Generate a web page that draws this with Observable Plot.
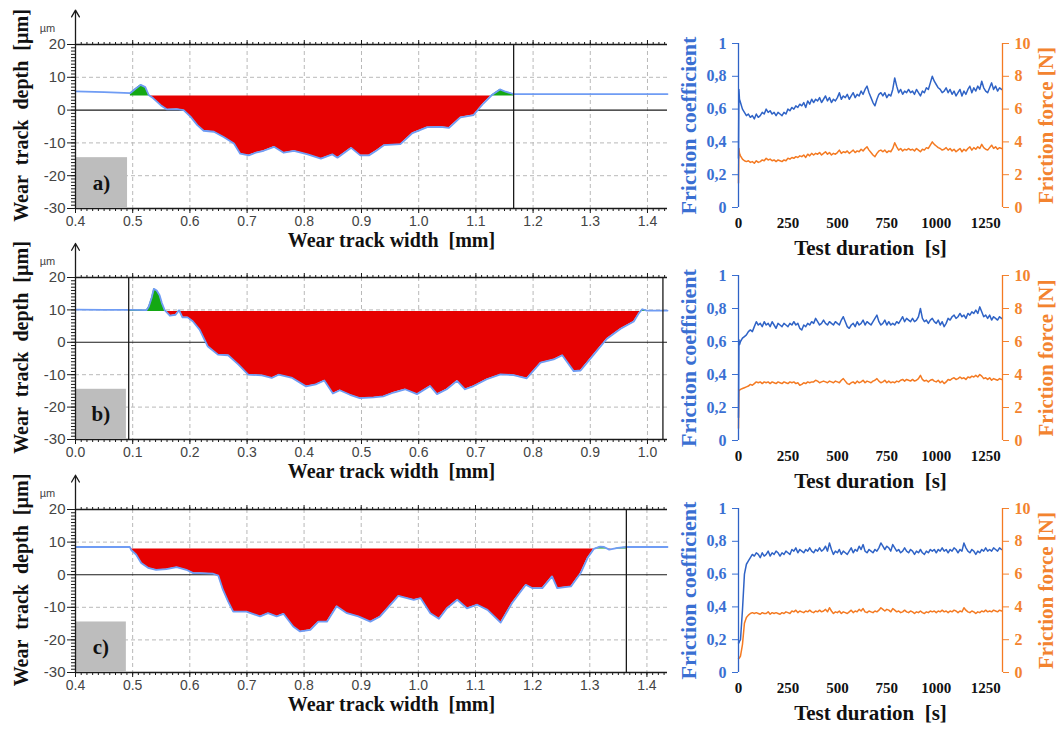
<!DOCTYPE html>
<html><head><meta charset="utf-8">
<script src="https://cdn.jsdelivr.net/npm/d3@7"></script>
<script src="https://cdn.jsdelivr.net/npm/@observablehq/plot@0.6"></script>
<style>
body{margin:0;background:#fff;}
#root{position:relative;width:1060px;height:729px;overflow:hidden;background:#fff;}
#root svg{position:absolute;overflow:visible;}
</style></head><body><div id="root"></div>
<script>
// ---------------- DATA: wear track profiles ----------------
const panelLabels = ["a)", "b)", "c)"];

const profA_mm = [0.40,0.45,0.496,0.505,0.514,0.522,0.528,0.536,0.549,0.560,0.577,0.589,0.601,0.613,0.624,0.642,0.659,0.677,0.688,0.703,0.715,0.729,0.747,0.764,0.782,0.806,0.829,0.849,0.858,0.870,0.882,0.898,0.913,0.925,0.939,0.968,0.989,1.015,1.038,1.053,1.073,1.096,1.113,1.128,1.142,1.152,1.166,1.30,1.435];
const profA_um = [5.7,5.5,5.2,6.5,7.7,7.0,4.6,3.6,1.5,0.2,0.3,0.0,-2.0,-4.6,-6.3,-6.6,-8.2,-10.2,-13.3,-13.8,-13.0,-12.4,-11.2,-13.0,-12.4,-13.5,-14.8,-13.5,-14.5,-13.0,-11.5,-13.8,-13.8,-12.5,-10.7,-10.4,-7.0,-5.2,-5.1,-5.4,-2.2,-1.5,2.0,4.6,6.3,5.6,4.9,4.9,4.9];

const profB_mm = [0.0,0.05,0.093,0.124,0.128,0.133,0.137,0.142,0.147,0.151,0.156,0.165,0.175,0.181,0.187,0.196,0.205,0.217,0.231,0.249,0.267,0.285,0.302,0.326,0.343,0.355,0.379,0.403,0.420,0.435,0.450,0.462,0.480,0.497,0.521,0.538,0.556,0.576,0.597,0.620,0.632,0.649,0.667,0.681,0.696,0.719,0.743,0.766,0.789,0.813,0.836,0.851,0.871,0.883,0.906,0.929,0.953,0.976,0.985,0.991,0.999,1.035];
const profB_um = [10.1,10.0,10.0,9.9,11.0,13.7,16.5,16.0,14.5,12.1,9.9,8.2,8.5,9.9,7.7,7.7,6.5,3.9,-1.2,-3.8,-4.0,-6.9,-10.0,-10.2,-11.0,-10.0,-11.0,-13.6,-13.0,-11.8,-15.8,-14.8,-16.2,-17.2,-17.0,-16.7,-15.5,-14.5,-16.0,-13.5,-16.0,-14.5,-11.9,-14.5,-13.5,-11.4,-9.9,-10.1,-11.1,-6.3,-5.3,-4.0,-8.9,-8.7,-3.8,1.1,4.2,6.4,9.0,10.2,9.8,9.8];

const profC_mm = [0.40,0.495,0.498,0.506,0.515,0.527,0.541,0.559,0.577,0.594,0.606,0.618,0.641,0.650,0.658,0.667,0.676,0.699,0.723,0.737,0.752,0.764,0.781,0.793,0.811,0.825,0.840,0.857,0.875,0.895,0.916,0.933,0.965,0.992,1.004,1.021,1.036,1.050,1.068,1.085,1.103,1.121,1.144,1.164,1.188,1.199,1.217,1.234,1.243,1.267,1.284,1.296,1.307,1.318,1.325,1.334,1.349,1.364,1.436];
const profC_um = [8.5,8.5,7.5,6.2,3.6,2.1,1.5,1.7,2.3,1.5,0.5,0.5,0.3,-0.3,-4.6,-8.2,-11.3,-11.3,-12.8,-11.8,-12.8,-12.0,-15.9,-17.4,-16.9,-14.4,-14.4,-9.7,-11.8,-12.8,-14.4,-12.8,-6.5,-7.7,-7.2,-11.8,-13.5,-10.3,-7.7,-10.3,-9.2,-10.8,-14.7,-8.7,-3.1,-4.1,-4.1,-0.5,-4.1,-3.6,0.5,5.1,7.9,8.6,8.5,7.7,8.2,8.5,8.5];

// x-axis extents [mm], reference level [µm], evaluated span [mm], cursor lines [mm], label box right edge [mm]
const profDomains = [[0.4, 1.435], [0.0, 1.035], [0.4, 1.436]];
const profRefs = [4.3, 9.5, 7.9];
const profSpans = [[0.496, 1.166], [0.093, 1.027], [0.497, 1.364]];
const profCursors = [[1.166], [0.093, 1.027], [1.364]];
const profBoxRight = [0.491, 0.089, 0.489];
const depthTicks = [20, 10, 0, -10, -20, -30];
const depthGrid = [10, -10, -20];
const depthDomain = [-30, 20];
const boxTop = -14.5;

// ---------------- DATA: friction tests ----------------
const timeEarly = [0, 2, 5];
const fricTime = timeEarly.concat(d3.range(10, 1340, 10)); // sampling times [s]
const timeTicks = [0, 250, 500, 750, 1000, 1250];
const timeMax = 1335;
const coefTicks = [0, 0.2, 0.4, 0.6, 0.8, 1];
const forceTicks = [0, 2, 4, 6, 8, 10];

const coefA = [0.30,0.72,0.66,0.64,0.60,0.58,0.56,0.57,0.55,0.56,
0.54,0.57,0.55,0.56,0.58,0.57,0.60,0.58,0.59,0.57,
0.58,0.56,0.58,0.57,0.56,0.58,0.57,0.60,0.59,0.61,
0.60,0.62,0.61,0.63,0.62,0.64,0.61,0.65,0.63,0.66,
0.64,0.66,0.65,0.67,0.64,0.66,0.68,0.65,0.67,0.64,
0.66,0.65,0.67,0.70,0.66,0.68,0.67,0.69,0.66,0.68,
0.70,0.67,0.69,0.68,0.71,0.69,0.72,0.74,0.70,0.67,
0.64,0.62,0.66,0.69,0.70,0.68,0.70,0.67,0.69,0.68,
0.72,0.79,0.74,0.70,0.72,0.69,0.71,0.70,0.72,0.70,
0.71,0.69,0.72,0.70,0.68,0.71,0.70,0.73,0.72,0.76,
0.80,0.77,0.75,0.73,0.72,0.70,0.71,0.73,0.70,0.72,
0.69,0.71,0.68,0.70,0.72,0.68,0.71,0.69,0.72,0.74,
0.70,0.73,0.71,0.74,0.72,0.77,0.73,0.71,0.70,0.73,
0.76,0.72,0.74,0.71,0.73,0.72];
const forceA = [1.50,3.60,3.30,3.15,2.95,2.85,2.80,2.85,2.75,2.80,
2.70,2.85,2.75,2.80,2.90,2.85,3.00,2.90,2.95,2.85,
2.90,2.80,2.90,2.85,2.80,2.90,2.85,3.00,2.95,3.05,
3.00,3.10,3.05,3.15,3.10,3.20,3.05,3.25,3.15,3.30,
3.20,3.30,3.25,3.35,3.20,3.30,3.40,3.25,3.35,3.20,
3.30,3.25,3.35,3.50,3.30,3.40,3.35,3.45,3.30,3.40,
3.50,3.35,3.45,3.40,3.55,3.45,3.60,3.70,3.50,3.35,
3.20,3.10,3.30,3.45,3.50,3.40,3.50,3.35,3.45,3.40,
3.60,3.95,3.70,3.50,3.60,3.45,3.55,3.50,3.60,3.50,
3.55,3.45,3.60,3.50,3.40,3.55,3.50,3.65,3.60,3.80,
4.00,3.85,3.75,3.65,3.60,3.50,3.55,3.65,3.50,3.60,
3.45,3.55,3.40,3.50,3.60,3.40,3.55,3.45,3.60,3.70,
3.50,3.65,3.55,3.70,3.60,3.85,3.65,3.55,3.50,3.65,
3.80,3.60,3.70,3.55,3.65,3.60];

const coefB = [0.14,0.61,0.58,0.60,0.62,0.63,0.64,0.66,0.67,0.66,
0.69,0.72,0.70,0.71,0.69,0.72,0.70,0.71,0.69,0.72,
0.70,0.68,0.71,0.70,0.69,0.71,0.70,0.69,0.71,0.70,
0.72,0.70,0.71,0.68,0.67,0.70,0.69,0.71,0.70,0.72,
0.71,0.74,0.72,0.70,0.71,0.73,0.71,0.70,0.72,0.71,
0.70,0.72,0.71,0.70,0.73,0.75,0.72,0.69,0.68,0.70,
0.71,0.69,0.72,0.70,0.71,0.73,0.70,0.72,0.71,0.70,
0.72,0.74,0.76,0.72,0.70,0.71,0.73,0.70,0.72,0.70,
0.71,0.70,0.72,0.71,0.73,0.75,0.72,0.74,0.73,0.72,
0.74,0.72,0.73,0.75,0.80,0.74,0.72,0.73,0.71,0.73,
0.74,0.72,0.71,0.73,0.70,0.72,0.69,0.71,0.74,0.73,
0.75,0.76,0.74,0.75,0.77,0.75,0.76,0.74,0.77,0.76,
0.78,0.77,0.79,0.77,0.81,0.78,0.75,0.76,0.74,0.76,
0.73,0.75,0.74,0.73,0.75,0.74];
const forceB = [0.75,3.00,3.05,3.10,3.15,3.20,3.25,3.30,3.40,3.35,
3.45,3.55,3.50,3.55,3.45,3.55,3.50,3.55,3.45,3.55,
3.50,3.45,3.55,3.50,3.45,3.55,3.50,3.45,3.55,3.50,
3.55,3.45,3.50,3.35,3.40,3.50,3.45,3.55,3.50,3.55,
3.55,3.65,3.60,3.50,3.55,3.60,3.55,3.50,3.60,3.55,
3.50,3.60,3.55,3.50,3.65,3.75,3.60,3.45,3.40,3.50,
3.55,3.45,3.60,3.50,3.55,3.65,3.50,3.60,3.55,3.50,
3.60,3.65,3.75,3.60,3.50,3.55,3.65,3.50,3.60,3.50,
3.55,3.50,3.60,3.55,3.65,3.70,3.60,3.70,3.65,3.60,
3.70,3.60,3.65,3.75,3.95,3.70,3.60,3.65,3.55,3.65,
3.70,3.60,3.55,3.65,3.50,3.60,3.45,3.55,3.70,3.65,
3.75,3.80,3.70,3.75,3.85,3.75,3.80,3.70,3.85,3.80,
3.90,3.85,3.95,3.85,4.00,3.90,3.75,3.80,3.70,3.80,
3.65,3.75,3.70,3.65,3.75,3.70];

const coefC = [0.18,0.18,0.19,0.20,0.38,0.60,0.66,0.68,0.70,0.72,
0.71,0.73,0.72,0.70,0.73,0.71,0.72,0.74,0.71,0.73,
0.72,0.74,0.73,0.71,0.73,0.72,0.74,0.73,0.72,0.75,
0.74,0.76,0.73,0.75,0.74,0.73,0.75,0.74,0.76,0.74,
0.73,0.75,0.74,0.76,0.74,0.75,0.77,0.74,0.79,0.75,
0.72,0.74,0.73,0.75,0.72,0.74,0.73,0.72,0.74,0.76,
0.73,0.75,0.74,0.77,0.75,0.78,0.74,0.73,0.75,0.74,
0.73,0.75,0.74,0.76,0.79,0.77,0.75,0.77,0.76,0.74,
0.78,0.76,0.74,0.75,0.73,0.74,0.76,0.74,0.73,0.75,
0.74,0.72,0.74,0.73,0.75,0.73,0.72,0.74,0.73,0.75,
0.74,0.75,0.73,0.75,0.74,0.76,0.74,0.75,0.73,0.75,
0.74,0.76,0.75,0.73,0.75,0.74,0.79,0.76,0.74,0.73,
0.75,0.74,0.72,0.74,0.73,0.75,0.74,0.76,0.74,0.75,
0.74,0.76,0.75,0.74,0.76,0.75];
const forceC = [0.85,0.85,0.90,1.00,1.70,3.00,3.35,3.50,3.60,3.65,
3.60,3.65,3.60,3.55,3.65,3.60,3.60,3.70,3.55,3.65,
3.60,3.65,3.60,3.55,3.65,3.60,3.70,3.65,3.60,3.75,
3.70,3.80,3.65,3.75,3.70,3.65,3.75,3.70,3.80,3.70,
3.65,3.75,3.70,3.80,3.70,3.75,3.85,3.70,3.95,3.75,
3.60,3.70,3.65,3.75,3.60,3.70,3.65,3.60,3.70,3.80,
3.65,3.75,3.70,3.85,3.75,3.90,3.70,3.65,3.75,3.70,
3.65,3.75,3.70,3.80,3.95,3.85,3.75,3.85,3.80,3.70,
3.90,3.80,3.70,3.75,3.65,3.70,3.80,3.70,3.65,3.75,
3.70,3.60,3.70,3.65,3.75,3.65,3.60,3.70,3.65,3.75,
3.70,3.75,3.65,3.75,3.70,3.80,3.70,3.75,3.65,3.75,
3.70,3.80,3.75,3.65,3.75,3.70,3.95,3.80,3.70,3.65,
3.75,3.70,3.60,3.70,3.65,3.75,3.70,3.80,3.70,3.75,
3.70,3.80,3.75,3.70,3.80,3.75];

// ---------------- LAYOUT / STYLE ----------------
const root = document.getElementById("root");
const SERIF = "'Liberation Serif','Times New Roman',serif";
const SANS = "'Liberation Sans',Arial,sans-serif";
const RED = "#e60000", GREEN = "#14a814", PROFILE = "#6f9cf4", INK = "#1a1a1a";
const BLUE = "#2f63c6", ORANGE = "#f47a22", BLUE_T = "#3a6fd2", ORANGE_T = "#f3832f";
const profRows = [{top: 0, pTop: 44, pBottom: 208}, {top: 233, pTop: 277, pBottom: 439}, {top: 466, pTop: 509, pBottom: 672}];
const fricRows = [{top: 0, pTop: 43, pBottom: 207}, {top: 233, pTop: 275, pBottom: 440}, {top: 466, pTop: 508, pBottom: 672}];

function place(el, left, top) {
  el.style.left = left + "px"; el.style.top = top + "px";
  root.appendChild(el);
}

// profile points clipped to the evaluated span, with interpolated crossings of the reference level
function fillPoints(pts, a, b, ref) {
  const interp = x => {
    for (let i = 0; i < pts.length - 1; i++) {
      const p = pts[i], q = pts[i + 1];
      if (x >= p.x && x <= q.x) return p.y + (q.y - p.y) * (x - p.x) / (q.x - p.x);
    }
    return pts[pts.length - 1].y;
  };
  const xs = new Set([a, b]);
  pts.forEach(p => { if (p.x > a && p.x < b) xs.add(p.x); });
  for (let i = 0; i < pts.length - 1; i++) {
    const p = pts[i], q = pts[i + 1];
    if ((p.y - ref) * (q.y - ref) < 0) {
      const xc = p.x + (ref - p.y) / (q.y - p.y) * (q.x - p.x);
      if (xc > a && xc < b) xs.add(xc);
    }
  }
  return Array.from(xs).sort((u, v) => u - v).map(x => ({x, y: interp(x)}));
}

const profMM = [profA_mm, profB_mm, profC_mm];
const profUM = [profA_um, profB_um, profC_um];

profRows.forEach((row, k) => {
  const H = 250, W = 700;
  const pts = profMM[k].map((x, i) => ({x, y: profUM[k][i]}));
  const ref = profRefs[k];
  const [s0, s1] = profSpans[k];
  const fill = fillPoints(pts, s0, s1, ref);
  const [d0, d1] = profDomains[k];
  const major = d3.range(Math.round(d0 * 10), Math.floor(d1 * 10 + 1e-6) + 1).map(v => v / 10);
  const minor = d3.range(Math.round(d0 * 100), Math.floor(d1 * 100 + 1e-6) + 1).map(v => v / 100);
  const depthMinor = d3.range(-30, 21, 1);
  const svg = Plot.plot({
    width: W, height: H,
    marginLeft: 75, marginRight: W - 667, marginTop: row.pTop - row.top, marginBottom: H - (row.pBottom - row.top),
    x: {domain: [d0, d1]}, y: {domain: depthDomain},
    style: {fontFamily: SANS, fontSize: "14px", color: "#444", background: "transparent"},
    marks: [
      Plot.gridX({ticks: major.filter(v => v > d0 + 1e-6), stroke: "#b9b9b9", strokeOpacity: 1, strokeDasharray: "4,3"}),
      Plot.gridY({ticks: depthGrid, stroke: "#b9b9b9", strokeOpacity: 1, strokeDasharray: "4,3"}),
      Plot.ruleY([0], {stroke: INK, strokeWidth: 1.1}),
      Plot.ruleY([depthDomain[1]], {stroke: INK, strokeWidth: 1.3}),
      Plot.ruleY([depthDomain[0]], {stroke: INK, strokeWidth: 1.3}),
      Plot.areaY(fill, {x: "x", y1: () => ref, y2: d => Math.min(d.y, ref), fill: RED}),
      Plot.areaY(fill, {x: "x", y1: () => ref, y2: d => Math.max(d.y, ref), fill: GREEN}),
      Plot.line(pts, {x: "x", y: "y", stroke: PROFILE, strokeWidth: 1.8}),
      Plot.ruleX(profCursors[k], {stroke: INK, strokeWidth: 1.3}),
      Plot.rect([{x1: d0, x2: profBoxRight[k], y1: depthDomain[0], y2: boxTop}], {x1: "x1", x2: "x2", y1: "y1", y2: "y2", fill: "#bdbdbd"}),
      Plot.text([panelLabels[k]], {x: () => (d0 + profBoxRight[k]) / 2, y: () => (depthDomain[0] + boxTop) / 2, text: d => d,
        fontFamily: SERIF, fontWeight: "bold", fontSize: 21, fill: "#111"}),
      Plot.arrow([{x: d0, y1: depthDomain[0], y2: 30.5}], {x1: "x", x2: "x", y1: "y1", y2: "y2", stroke: INK, strokeWidth: 1.3, headLength: 9}),
      Plot.axisX({ticks: major, tickFormat: d3.format(".1f"), tickSize: 5, tickPadding: 3, stroke: INK, fill: "#444", fontSize: 14, label: null}),
      Plot.axisX({ticks: minor, tickSize: 3, text: null, stroke: INK, label: null}),
      Plot.axisX({anchor: "top", ticks: major, tickSize: 5, text: null, stroke: INK, label: null}),
      Plot.axisX({anchor: "top", ticks: minor, tickSize: 3, text: null, stroke: INK, label: null}),
      Plot.axisY({ticks: depthTicks, tickFormat: d => String(d), tickSize: 8, tickPadding: 2, stroke: INK, fill: "#444", fontSize: 15, label: null}),
      Plot.axisY({ticks: depthMinor, tickSize: 4, text: null, stroke: INK, label: null}),
      Plot.text(["µm"], {frameAnchor: "top-left", dx: -28, dy: -16, text: d => d, textAnchor: "middle", lineAnchor: "middle", fontSize: 11, fill: "#444"}),
      Plot.text(["Wear track width\u00a0 [mm]"], {frameAnchor: "bottom", dx: 20, dy: 32, text: d => d, textAnchor: "middle", lineAnchor: "middle",
        fontFamily: SERIF, fontWeight: "bold", fontSize: 20, fill: "#111"}),
      Plot.text(["Wear\u00a0 track\u00a0 depth\u00a0 [µm]"], {frameAnchor: "left", dx: -54, dy: -11, rotate: -90, text: d => d,
        textAnchor: "middle", lineAnchor: "middle", fontFamily: SERIF, fontWeight: "bold", fontSize: 20, fill: "#111"})
    ]
  });
  place(svg, 0, row.top);
});

const coefs = [coefA, coefB, coefC];
const forces = [forceA, forceB, forceC];
const commaFmt = v => String(v).replace(".", ",");

fricRows.forEach((row, k) => {
  const H = 260, W = 400, L = 660;
  const data = fricTime.map((t, i) => ({t, c: coefs[k][i], f: forces[k][i]})).filter(d => d.c != null && d.f != null);
  const svg = Plot.plot({
    width: W, height: H,
    marginLeft: 738 - L, marginRight: L + W - 1002, marginTop: row.pTop - row.top, marginBottom: H - (row.pBottom - row.top),
    x: {domain: [0, timeMax]}, y: {domain: [0, 1]},
    style: {fontFamily: SERIF, fontWeight: "bold", fontSize: "15px", color: "#111", background: "transparent"},
    marks: [
      Plot.line(data, {x: "t", y: d => d.f / 10, stroke: ORANGE, strokeWidth: 1.5}),
      Plot.line(data, {x: "t", y: "c", stroke: BLUE, strokeWidth: 1.5}),
      Plot.ruleX([0], {stroke: BLUE, strokeWidth: 1.3}),
      Plot.ruleX([timeMax], {stroke: ORANGE, strokeWidth: 1.3}),
      Plot.axisY({anchor: "left", ticks: coefTicks, tickFormat: commaFmt, tickSize: 6, tickPadding: 6, color: BLUE_T, fontSize: 16, label: null}),
      Plot.axisY({anchor: "right", ticks: forceTicks.map(v => v / 10), tickFormat: v => String(Math.round(v * 10)), tickSize: 6, tickPadding: 6, color: ORANGE_T, fontSize: 16, label: null}),
      Plot.axisX({ticks: timeTicks, tickFormat: d => String(d), tickSize: 0, tickPadding: 10, fontSize: 15, fill: "#111", label: null}),
      Plot.text(["Test duration\u00a0 [s]"], {frameAnchor: "bottom", dy: 41, text: d => d, textAnchor: "middle", lineAnchor: "middle", fontSize: 21, fill: "#111"}),
      Plot.text(["Friction coefficient"], {frameAnchor: "left", dx: -50, rotate: -90, text: d => d, textAnchor: "middle", lineAnchor: "middle", fontSize: 22, fill: BLUE_T}),
      Plot.text(["Friction force [N]"], {frameAnchor: "right", dx: 44, rotate: -90, text: d => d, textAnchor: "middle", lineAnchor: "middle", fontSize: 21, fill: ORANGE_T})
    ]
  });
  place(svg, L, row.top);
});
</script>
</body></html>
